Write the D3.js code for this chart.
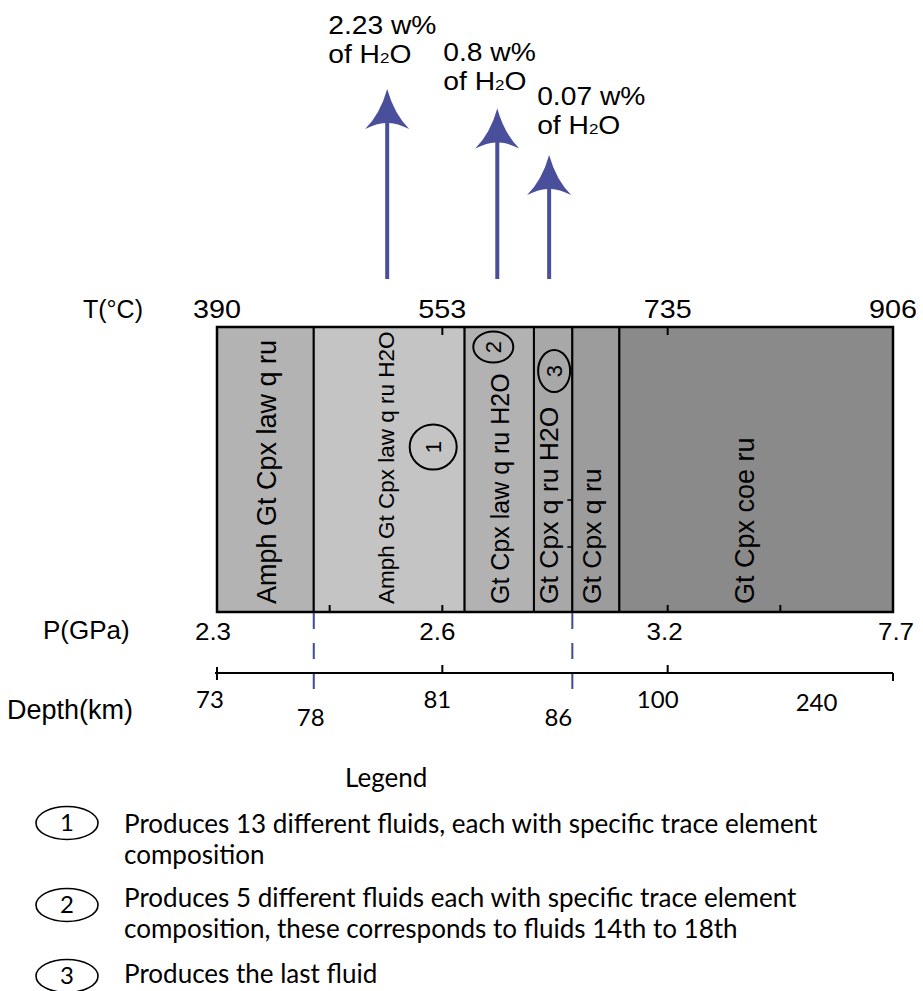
<!DOCTYPE html>
<html lang="en">
<head>
<meta charset="UTF-8">
<title>Fluid production along the P-T path</title>
<script src="https://cdn.jsdelivr.net/npm/d3@7"></script>
<style>
    body { margin: 0; background: #fff; }
    svg { display: block; }
    .arial { font-family: "Liberation Sans", Arial, Helvetica, sans-serif; fill: #000; }
    .human { font-family: Lato, "Open Sans", sans-serif; fill: #000; }
</style>
</head>
<body>
<script>

    // tick values on top (temperature) and bottom (pressure) of the box
    let tempTicks = [390, 553, 735, 906];
    let pressTicks = ["2.3", "2.6", "3.2", "7.7"];

    // depth labels and the temperature they sit under
    let depthLabels = ["73", "78", "81", "86", "100", "240"];
    let depthAtTemp = [390, 460, 553, 658, 735, 848];

    // stability fields: temperature limits and assemblage
    let boundaries = [390, 460, 571, 627, 658, 696, 906];
    let assemblages = [
        "Amph Gt Cpx law q ru",
        "Amph Gt Cpx law q ru H2O",
        "Gt Cpx law q ru H2O",
        "Gt Cpx q ru H2O",
        "Gt Cpx q ru",
        "Gt Cpx coe ru"
    ];

    // water released (w%) and the field it comes from
    let waterWt = [2.23, 0.8, 0.07];
    let waterField = [1, 2, 3];

    // numbered steps, field they belong to, legend text
    let steps = ["1", "2", "3"];
    let stepField = [1, 2, 3];
    let legendLines = [
        ["Produces 13 different fluids, each with specific trace element", "composition"],
        ["Produces 5 different fluids each with specific trace element", "composition, these corresponds to fluids 14th to 18th"],
        ["Produces the last fluid"]
    ];

    // ---- layout / styles ----
    let W = 923, H = 991;
    let box = {left: 217, right: 893, top: 327, bottom: 612};
    let depthY = 673;
    let fills = ["#b3b3b3", "#c4c4c4", "#b2b2b2", "#a8a8a8", "#9c9c9c", "#8a8a8a"];
    let labelSize = [27, 22.5, 25, 26.5, 26.5, 27];
    let labelNudge = [2, -3, 1, -4, -4, -11];
    let blue = "#4a4f9c";

    let svg = d3.select("body").append("svg")
        .attr("width", W)
        .attr("height", H);

    // tick positions evenly spaced along the box, temperature mapped piecewise
    let tickX = d3.scalePoint().domain(tempTicks).range([box.left, box.right]);
    let x = d3.scaleLinear().domain(tempTicks).range(tempTicks.map(tickX));
    let idx = d3.scaleLinear().domain([0, tempTicks.length - 1]).range([box.left, box.right]);

    function colCenter(i) {
        return (x(boundaries[i]) + x(boundaries[i + 1])) / 2;
    }

    // horizontal text, slightly stretched like the original
    function label(x0, y0, str, size, sx, anchor, cls) {
        return svg.append("text")
            .attr("class", cls || "arial")
            .attr("transform", "translate(" + x0 + "," + y0 + ") scale(" + sx + ",1)")
            .attr("text-anchor", anchor || "start")
            .attr("font-size", size)
            .text(str);
    }

    // stability fields
    let fields = svg.append("g");
    fields.selectAll("rect")
        .data(assemblages)
        .enter()
        .append("rect")
        .attr("x", (d, i) => x(boundaries[i]))
        .attr("y", box.top)
        .attr("width", (d, i) => x(boundaries[i + 1]) - x(boundaries[i]))
        .attr("height", box.bottom - box.top)
        .attr("fill", (d, i) => fills[i])
        .attr("stroke", "#000")
        .attr("stroke-width", 2);

    fields.selectAll("text")
        .data(assemblages)
        .enter()
        .append("text")
        .attr("class", "arial")
        .attr("transform", (d, i) => "translate(" + (colCenter(i) + labelNudge[i]) + "," + (box.bottom - 8) + ") rotate(-90)")
        .attr("dominant-baseline", "central")
        .attr("font-size", (d, i) => labelSize[i])
        .text(d => d);

    // minor ticks inside the box
    [1, 2].forEach(function (k) {
        svg.append("line")
            .attr("x1", idx(k)).attr("x2", idx(k))
            .attr("y1", box.top).attr("y2", box.top + 8)
            .attr("stroke", "#000").attr("stroke-width", 2);
    });
    [0.5, 1, 2, 2.5].forEach(function (k) {
        svg.append("line")
            .attr("x1", idx(k)).attr("x2", idx(k))
            .attr("y1", box.bottom).attr("y2", box.bottom - 7)
            .attr("stroke", "#000").attr("stroke-width", 2);
    });
    // two small marks on the left side of the Gt Cpx q ru field
    [500, 547].forEach(function (yy) {
        svg.append("line")
            .attr("x1", x(boundaries[4])).attr("x2", x(boundaries[4]) - 5)
            .attr("y1", yy).attr("y2", yy)
            .attr("stroke", "#000").attr("stroke-width", 1.5);
    });

    // outer frame
    svg.append("rect")
        .attr("x", box.left).attr("y", box.top)
        .attr("width", box.right - box.left)
        .attr("height", box.bottom - box.top)
        .attr("fill", "none")
        .attr("stroke", "#000")
        .attr("stroke-width", 2.5);

    // numbered markers inside the fields
    let markerDx = [44, -6, 1];
    let markerY = [447, 347, 371];
    let markerR = [[23.5, 22.5], [20, 15.5], [16, 21]];
    steps.forEach(function (s, i) {
        let cx = colCenter(stepField[i]) + markerDx[i];
        svg.append("ellipse")
            .attr("cx", cx).attr("cy", markerY[i])
            .attr("rx", markerR[i][0]).attr("ry", markerR[i][1])
            .attr("fill", "none")
            .attr("stroke", "#000")
            .attr("stroke-width", 2);
        svg.append("text")
            .attr("class", "arial")
            .attr("transform", "translate(" + cx + "," + markerY[i] + ") rotate(-90)")
            .attr("text-anchor", "middle")
            .attr("dominant-baseline", "central")
            .attr("font-size", 22)
            .text(s);
    });

    // temperature axis labels
    label(83, 318, "T(°C)", 25, 1, "start");
    tempTicks.forEach(function (t) {
        label(tickX(t), 318, t, 25, 1.15, "middle");
    });

    // pressure labels
    let pressDx = [-4, -5, -3, 3];
    label(43, 639, "P(GPa)", 26, 1, "start");
    pressTicks.forEach(function (p, i) {
        label(idx(i) + pressDx[i], 640, p, 23, 1.13, "middle");
    });

    // dashed guides at the dehydration limits
    [1, 4].forEach(function (b) {
        svg.append("line")
            .attr("x1", x(boundaries[b])).attr("x2", x(boundaries[b]))
            .attr("y1", box.bottom + 1).attr("y2", 703)
            .attr("stroke", "#3d4a9a")
            .attr("stroke-width", 2)
            .attr("stroke-dasharray", "16,14");
    });

    // depth axis
    svg.append("line")
        .attr("x1", box.left - 2).attr("x2", box.right)
        .attr("y1", depthY).attr("y2", depthY)
        .attr("stroke", "#000").attr("stroke-width", 2);
    let depthTicks = [[0, -6, 7], [1, -8, 0], [2, -8, 0], [3, 0, 8]];
    depthTicks.forEach(function (t) {
        svg.append("line")
            .attr("x1", idx(t[0])).attr("x2", idx(t[0]))
            .attr("y1", depthY + t[1]).attr("y2", depthY + t[2])
            .attr("stroke", "#000").attr("stroke-width", 2);
    });

    label(7, 719, "Depth(km)", 27, 1, "start");
    let depthDx = [-7, -3, -5, -14, -10, 0];
    let depthLabY = [708, 726, 708, 726, 708, 711];
    depthLabels.forEach(function (d, i) {
        label(x(depthAtTemp[i]) + depthDx[i], depthLabY[i], d, 24, 1, "middle", "human");
    });

    // water release arrows, length on a log scale of the amount
    let arrowLen = d3.scaleLog().domain([0.07, 2.23]).range([124, 190]);
    let arrowBase = 279;
    let arrowDx = [-2, -2, -4];
    let textDx = [-59, -54, -12];
    let textDy = [-55, -48, -50];
    waterWt.forEach(function (w, i) {
        let ax = colCenter(waterField[i]) + arrowDx[i];
        let tip = arrowBase - arrowLen(w);
        svg.append("line")
            .attr("x1", ax).attr("x2", ax)
            .attr("y1", arrowBase).attr("y2", tip + 30)
            .attr("stroke", blue)
            .attr("stroke-width", 4);
        svg.append("path")
            .attr("transform", "translate(" + ax + "," + tip + ")")
            .attr("d", "M0,0 Q7,25 22,40 Q8,33 0,34 Q-8,33 -22,40 Q-7,25 0,0 Z")
            .attr("fill", blue);

        label(ax + textDx[i], tip + textDy[i], w + " w%", 25, 1.13, "start");
        let t = label(ax + textDx[i], tip + textDy[i] + 29, "of H", 25, 1.13, "start");
        t.append("tspan").attr("font-size", 15).text("2");
        t.append("tspan").text("O");
    });

    // legend
    let probe = svg.append("text").attr("class", "human").attr("font-size", 100).text(legendLines[0][0]);
    let legendSize = 100 * 694 / probe.node().getComputedTextLength();
    probe.remove();

    label(345, 787, "Legend", legendSize, 1, "start", "human");
    let legendY = [833, 907, 983];
    let ellipseY = [823, 905, 976];
    steps.forEach(function (s, i) {
        svg.append("ellipse")
            .attr("cx", 67).attr("cy", ellipseY[i])
            .attr("rx", 31).attr("ry", 16.5)
            .attr("fill", "none")
            .attr("stroke", "#000")
            .attr("stroke-width", 1.6);
        label(67, ellipseY[i] + 8, s, legendSize * 0.92, 1, "middle", "human");
        legendLines[i].forEach(function (line, j) {
            label(124, legendY[i] + j * 31, line, legendSize, 1, "start", "human");
        });
    });

</script>
</body>
</html>
